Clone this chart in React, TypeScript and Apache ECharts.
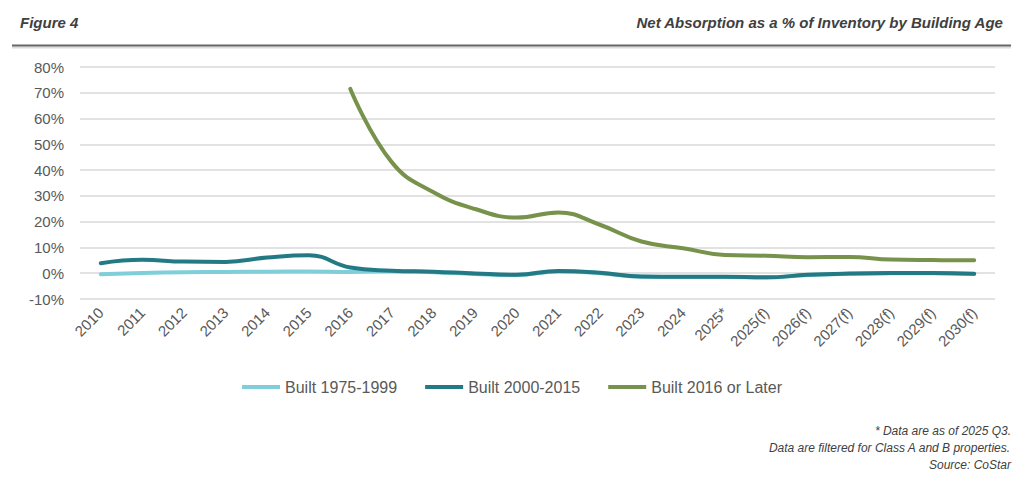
import React, { useEffect, useRef } from "react";
import * as echarts from "echarts";

const categories = [
  "2010", "2011", "2012", "2013", "2014", "2015", "2016", "2017", "2018", "2019",
  "2020", "2021", "2022", "2023", "2024", "2025*", "2025(f)", "2026(f)", "2027(f)",
  "2028(f)", "2029(f)", "2030(f)",
];

const built1975to1999 = [
  -0.4, 0.1, 0.4, 0.5, 0.6, 0.7, 0.5, 0.8, 0.4, -0.3, -0.7, 0.7, 0.0, -1.4, -1.5,
  -1.5, -1.7, -0.7, -0.2, 0.0, 0.0, -0.3,
];

const built2000to2015 = [
  3.9, 5.2, 4.5, 4.4, 6.1, 7.0, 2.2, 1.0, 0.6, -0.1, -0.6, 0.9, 0.2, -1.3, -1.4,
  -1.4, -1.6, -0.6, -0.1, 0.1, 0.1, -0.2,
];

const built2016OrLater = [
  null, null, null, null, null, null, 71.5, 43, 31.4, 24.9, 21.6, 23.6, 18.8, 12.3,
  9.7, 7.1, 6.8, 6.2, 6.3, 5.3, 5.1, 5.0,
];

const seriesNames = ["Built 1975-1999", "Built 2000-2015", "Built 2016 or Later"];
const seriesColors = ["#7FCFDA", "#237A85", "#77924A"];

const titleLeft = "Figure 4";
const titleRight = "Net Absorption as a % of Inventory by Building Age";
const footnotes = [
  "* Data are as of 2025 Q3.",
  "Data are filtered for Class A and B properties.",
  "Source: CoStar",
];

const FONT = "'Liberation Sans', Arial, sans-serif";

export default function App() {
  const ref = useRef<HTMLDivElement>(null);

  useEffect(() => {
    if (!ref.current) return;
    const chart = echarts.init(ref.current, undefined, { renderer: "svg" });
    const data = [built1975to1999, built2000to2015, built2016OrLater];
    chart.setOption({
      animation: false,
      backgroundColor: "#ffffff",
      textStyle: { fontFamily: FONT },
      grid: { left: 80, right: 29, top: 67, bottom: 181, containLabel: false },
      legend: {
        data: seriesNames,
        top: 374,
        left: "center",
        icon: "rect",
        itemWidth: 38,
        itemHeight: 4,
        itemGap: 28,
        textStyle: { fontFamily: FONT, fontSize: 16, color: "#595959" },
      },
      xAxis: {
        type: "category",
        data: categories,
        boundaryGap: true,
        axisLine: { show: false },
        axisTick: { show: false },
        axisLabel: {
          rotate: 45,
          interval: 0,
          margin: 11,
          fontFamily: FONT,
          fontSize: 15,
          color: "#595959",
        },
      },
      yAxis: {
        type: "value",
        min: -10,
        max: 80,
        interval: 10,
        axisLine: { show: false },
        axisTick: { show: false },
        splitLine: { lineStyle: { color: "#D9D9D9", width: 1.5 } },
        axisLabel: {
          formatter: "{value}%",
          margin: 16,
          fontFamily: FONT,
          fontSize: 15,
          color: "#595959",
        },
      },
      series: seriesNames.map((name, i) => ({
        name,
        type: "line",
        data: data[i],
        smooth: 0.45,
        showSymbol: false,
        symbol: "none",
        connectNulls: false,
        z: 2 + i,
        color: seriesColors[i],
        lineStyle: { color: seriesColors[i], width: 4, cap: "round" },
      })),
      graphic: [
        {
          type: "text",
          left: 20,
          top: 15,
          style: {
            text: titleLeft,
            fontFamily: FONT,
            fontSize: 15,
            fontWeight: "bold",
            fontStyle: "italic",
            fill: "#404040",
          },
        },
        {
          type: "text",
          right: 20,
          top: 15,
          style: {
            text: titleRight,
            fontFamily: FONT,
            fontSize: 15,
            fontWeight: "bold",
            fontStyle: "italic",
            fill: "#404040",
          },
        },
        {
          type: "rect",
          shape: { x: 12, y: 46.5, width: 999, height: 2 },
          style: { fill: "#DCDCDC" },
        },
        {
          type: "rect",
          shape: { x: 12, y: 44.5, width: 999, height: 2 },
          style: { fill: "#666666" },
        },
        ...footnotes.map((t, i) => ({
          type: "text",
          right: 13,
          top: 425 + i * 17,
          style: {
            text: t,
            fontFamily: FONT,
            fontSize: 12,
            fontStyle: "italic",
            fill: "#404040",
          },
        })),
      ],
    });
    return () => chart.dispose();
  }, []);

  return (
    <div
      ref={ref}
      style={{ position: "fixed", left: 0, top: 0, width: 1024, height: 480 }}
    />
  );
}
